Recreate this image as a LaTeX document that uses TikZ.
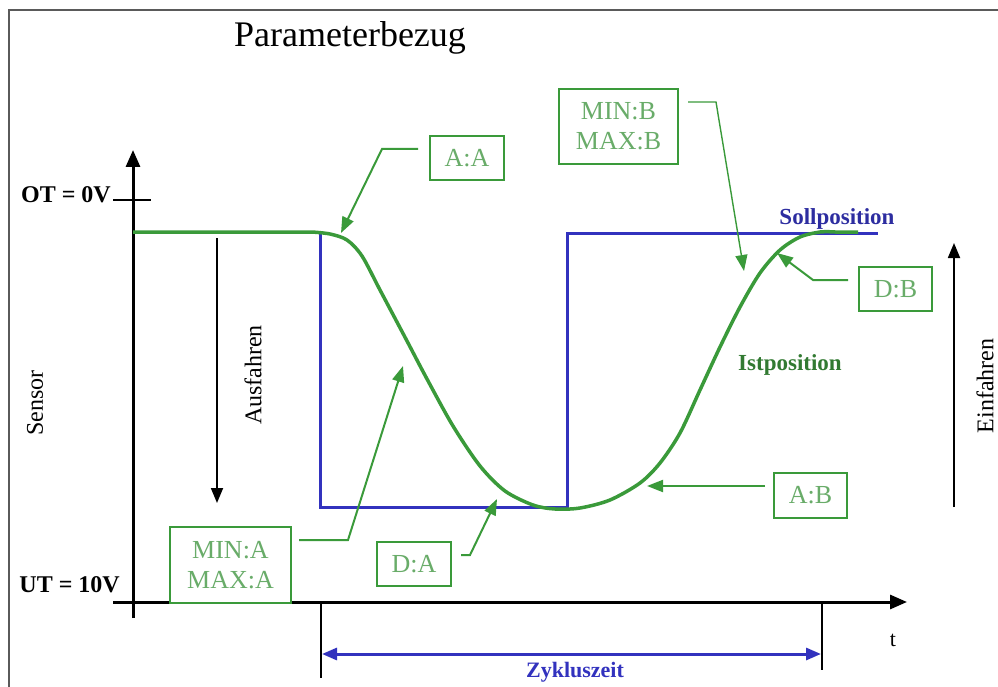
\documentclass[tikz,border=0pt]{standalone}
\usepackage{fontspec}
\setmainfont{Liberation Serif}
\usetikzlibrary{arrows.meta}
\definecolor{grn}{RGB}{58,154,58}
\definecolor{grntxt}{RGB}{105,172,105}
\definecolor{grndark}{RGB}{50,122,50}
\definecolor{blu}{RGB}{50,50,190}
\definecolor{bludark}{RGB}{45,45,160}
\definecolor{framegray}{RGB}{90,90,90}
\tikzset{
  box/.style={draw=grn,line width=2.5pt,fill=white,text=grntxt,inner sep=0pt,align=center,font=\fontsize{26}{30}\selectfont},
  conn/.style={draw=grn,line width=2pt,-{Triangle[length=16pt,width=12pt]}},
  thinconn/.style={draw=grn,line width=1.4pt,-{Triangle[length=16pt,width=12pt]}},
  axis/.style={draw=black,line width=3pt,-{Triangle[length=17pt,width=14pt]}},
  dirarrow/.style={draw=black,line width=1.8pt,-{Triangle[length=15pt,width=12pt]}},
  lbl/.style={inner sep=0pt,font=\fontsize{24}{28}\selectfont},
  boldlbl/.style={inner sep=0pt,font=\fontsize{23}{27}\selectfont\bfseries}
}
\begin{document}
\begin{tikzpicture}[x=1pt,y=-1pt]
\useasboundingbox (0,0) rectangle (998,687);
% frame
\draw[framegray,line width=1.5pt] (9,687) -- (9,10) -- (998,10);
% title
\node[inner sep=0pt,font=\fontsize{36}{42}\selectfont] (title) at (350,38) {Parameterbezug};

% blue Sollposition step
\draw[blu,line width=3pt] (320,233) -- (320,507) -- (567,507) -- (567,233) -- (878,233);

% axes
\coordinate (yb) at (133,618);
\coordinate (yt) at (133,150);
\coordinate (xl) at (113,602);
\coordinate (xr) at (907,602);
\draw[axis] (yb) -- (yt);
\draw[axis] (xl) -- (xr);
\coordinate (otl) at (113,200);
\coordinate (otr) at (151,200);
\draw[black,line width=1.2pt] (otl) -- (otr);
\node[anchor=east,inner sep=0pt,font=\fontsize{24}{28}\selectfont\bfseries] (ot) at (111,195) {OT = 0V};
\node[anchor=east,inner sep=0pt,font=\fontsize{24}{28}\selectfont\bfseries] (ut) at (120,585) {UT = 10V};
\node[lbl,rotate=90] (sensor) at (35,403) {Sensor};
\node[lbl,font=\fontsize{22}{26}\selectfont] (t) at (893,640) {t};

% Ausfahren / Einfahren
\coordinate (aus1) at (217,238);
\coordinate (aus2) at (217,503);
\draw[dirarrow] (aus1) -- (aus2);
\node[lbl,rotate=90] (ausf) at (253,375) {Ausfahren};
\coordinate (ein1) at (954,507);
\coordinate (ein2) at (954,243);
\draw[dirarrow] (ein1) -- (ein2);
\node[lbl,rotate=90] (einf) at (985,386) {Einfahren};

% Zykluszeit
\coordinate (z1a) at (321,602);
\coordinate (z1b) at (321,678);
\coordinate (z2a) at (822,602);
\coordinate (z2b) at (822,670);
\draw[black,line width=1.5pt] (z1a) -- (z1b);
\draw[black,line width=1.5pt] (z2a) -- (z2b);
\coordinate (zl) at (322,654);
\coordinate (zr) at (821,654);
\draw[blu,line width=3pt,{Triangle[length=15pt,width=12pt]}-{Triangle[length=15pt,width=12pt]}] (zl) -- (zr);
\node[boldlbl,text=blu,font=\fontsize{22}{26}\selectfont\bfseries] (zyk) at (575,672) {Zykluszeit};

% green Istposition curve
\draw[grn,line width=3.5pt,line join=round] (133,232) -- (312,232) plot[smooth] coordinates {(312,232)(330,234)(347,240)(362,256)(380,290)(407,341)(427,379)(453,426)(480,466)(505,491)(533,505)(555,509)(580,508)(610,500)(640,483)(660,463)(680,433)(700,390)(720,347)(740,307)(760,273)(780,250)(800,237)(820,232)(835,232)} -- (858,232);

\node[boldlbl,text=bludark] (soll) at (837,219) {Sollposition};
\node[boldlbl,text=grndark] (ist) at (790,365) {Istposition};

% boxes
\node[box,minimum width=74pt,minimum height=44pt] (AA) at (467,158) {A:A};
\node[box,minimum width=121pt,minimum height=76pt] (MINA) at (230.5,565) {MIN:A\\MAX:A};
\node[box,minimum width=74pt,minimum height=44pt] (DA) at (414,564) {D:A};
\node[box,minimum width=119pt,minimum height=75pt] (MINB) at (618.5,126.5) {MIN:B\\MAX:B};
\node[box,minimum width=73pt,minimum height=44pt] (DB) at (895.5,289) {D:B};
\node[box,minimum width=73pt,minimum height=45pt] (AB) at (810.5,495.5) {A:B};

% connectors
\coordinate (aa0) at (418,149);
\coordinate (aa1) at (382,149);
\coordinate (aa2) at (341,233);
\draw[conn] (aa0) -- (aa1) -- (aa2);

\coordinate (ma0) at (299,540);
\coordinate (ma1) at (348,540);
\coordinate (ma2) at (403,366);
\draw[conn] (ma0) -- (ma1) -- (ma2);

\coordinate (da0) at (461,555);
\coordinate (da1) at (470,555);
\coordinate (da2) at (497,499);
\draw[conn] (da0) -- (da1) -- (da2);

\coordinate (ab0) at (765,486);
\coordinate (ab2) at (647,486);
\draw[conn] (ab0) -- (ab2);

\coordinate (mb0) at (688,102);
\coordinate (mb1) at (716,102);
\coordinate (mb2) at (744,271);
\draw[thinconn] (mb0) -- (mb1) -- (mb2);

\coordinate (db0) at (848,280);
\coordinate (db1) at (813,280);
\coordinate (db2) at (777,253);
\draw[conn] (db0) -- (db1) -- (db2);
\end{tikzpicture}
\end{document}
